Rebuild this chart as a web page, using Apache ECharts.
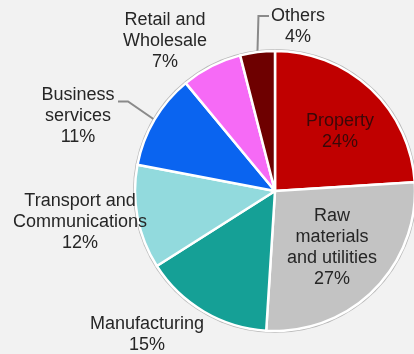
<!DOCTYPE html>
<html>
<head>
<meta charset="utf-8">
<script src="https://cdn.jsdelivr.net/npm/echarts@6/dist/echarts.min.js"></script>
<style>
html,body{margin:0;padding:0;background:#f2f2f2;}
#chart{width:414px;height:354px;}
</style>
</head>
<body>
<div id="chart"></div>
<script>
const categories = ['Property', 'Raw\nmaterials\nand utilities', 'Manufacturing', 'Transport and\nCommunications', 'Business\nservices', 'Retail and\nWholesale', 'Others'];
const values = [24, 27, 15, 12, 11, 7, 4];
const colors = ['#c00000', '#c3c3c3', '#15a096', '#92dadd', '#0a64f0', '#f66af6', '#6e0000'];
const labelPos = [[340, 132], [332, 248], [147, 335], [80, 222], [78, 116], [165, 41], [298, 27]];
const insideIdx = [0, 1];
const lineIdx = [4, 6];

const chart = echarts.init(document.getElementById('chart'));
const data = categories.map((c, i) => ({
  name: c,
  value: values[i],
  itemStyle: { color: colors[i] },
  label: {
    position: insideIdx.includes(i) ? 'inside' : 'outside',
    color: i === 0 ? '#3a0808' : '#262626'
  },
  labelLine: { show: lineIdx.includes(i) }
}));

chart.setOption({
  backgroundColor: '#f2f2f2',
  animation: false,
  series: [
    {
      type: 'pie',
      silent: true,
      center: [275, 191],
      radius: 142,
      z: 1,
      label: { show: false },
      labelLine: { show: false },
      itemStyle: { color: '#b8b8b8' },
      data: [{ value: 1, name: '' }]
    },
    {
      type: 'pie',
      center: [275, 191],
      radius: 140,
      startAngle: 90,
      clockwise: true,
      z: 2,
      itemStyle: { borderColor: '#ffffff', borderWidth: 2.5 },
      label: {
        formatter: '{b}\n{d}%',
        fontFamily: 'Liberation Sans, Arial, sans-serif',
        fontSize: 18,
        lineHeight: 21,
        align: 'center',
        overflow: 'none'
      },
      labelLine: {
        lineStyle: { color: '#8a8a8a', width: 2 },
        length: 10,
        length2: 10
      },
      labelLayout: function (p) {
        const pos = labelPos[p.dataIndex];
        const out = { x: pos[0], y: pos[1], align: 'center', verticalAlign: 'middle' };
        if (p.labelLinePoints) {
          const start = p.labelLinePoints[0];
          const h = p.labelRect.height;
          if (p.dataIndex === 6) {
            const ty = pos[1] - h / 2 + 10;
            const lx = pos[0] - 29;
            out.labelLinePoints = [start, [start[0] + 1, ty], [lx, ty]];
          } else if (p.dataIndex === 4) {
            const ty = pos[1] - h / 2 + 17;
            const rx = pos[0] + 40;
            out.labelLinePoints = [start, [rx + 10, ty], [rx, ty]];
          }
        }
        return out;
      },
      data: data
    }
  ]
});
</script>
</body>
</html>
